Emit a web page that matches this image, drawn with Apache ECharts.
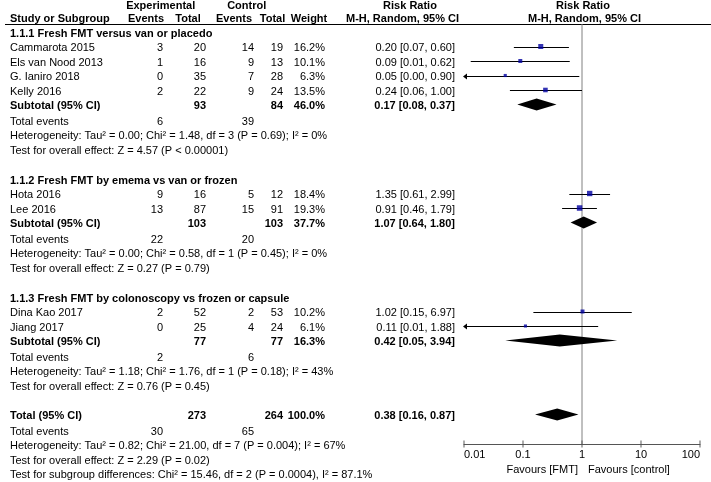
<!DOCTYPE html>
<html><head><meta charset="utf-8">
<script src="https://cdn.jsdelivr.net/npm/echarts@6/dist/echarts.min.js"></script>
<style>html,body{margin:0;padding:0;background:#fff}#c{width:711px;height:482px}</style>
</head><body><div id="c"></div>
<script>
// ---------- DATA ----------
const studies = ['Cammarota 2015','Els van Nood 2013','G. Ianiro 2018','Kelly 2016','Hota 2016','Lee 2016','Dina Kao 2017','Jiang 2017'];
const expEvents = [3,1,0,2,9,13,2,0];
const expTotal = [20,16,35,22,16,87,52,25];
const ctrlEvents = [14,9,7,9,5,15,2,4];
const ctrlTotal = [19,13,28,24,12,91,53,24];
const weights = [16.2,10.1,6.3,13.5,18.4,19.3,10.2,6.1];
const riskRatio = [0.20,0.09,0.05,0.24,1.35,0.91,1.02,0.11];
const ciLow = [0.07,0.013,0.003,0.06,0.61,0.46,0.15,0.007];
const ciHigh = [0.60,0.62,0.90,1.00,2.99,1.79,6.97,1.88];

const groupNames = ['1.1.1 Fresh FMT versus van or placedo','1.1.2 Fresh FMT by emema vs van or frozen','1.1.3 Fresh FMT by colonoscopy vs frozen or capsule'];
const groupSizes = [4,2,2];
const subExpTotal = [93,103,77];
const subCtrlTotal = [84,103,77];
const subWeight = [46.0,37.7,16.3];
const subRR = [0.17,1.07,0.42];
const subLow = [0.08,0.64,0.05];
const subHigh = [0.37,1.80,3.94];
const subExpEvents = [6,22,2];
const subCtrlEvents = [39,20,6];
const subHet = [
  'Heterogeneity: Tau² = 0.00; Chi² = 1.48, df = 3 (P = 0.69); I² = 0%',
  'Heterogeneity: Tau² = 0.00; Chi² = 0.58, df = 1 (P = 0.45); I² = 0%',
  'Heterogeneity: Tau² = 1.18; Chi² = 1.76, df = 1 (P = 0.18); I² = 43%'
];
const subTest = [
  'Test for overall effect: Z = 4.57 (P < 0.00001)',
  'Test for overall effect: Z = 0.27 (P = 0.79)',
  'Test for overall effect: Z = 0.76 (P = 0.45)'
];
const totalExpTotal = 273, totalCtrlTotal = 264, totalWeight = 100.0;
const totalRR = 0.38, totalLow = 0.16, totalHigh = 0.87;
const totalExpEvents = 30, totalCtrlEvents = 65;
const totalHet = 'Heterogeneity: Tau² = 0.82; Chi² = 21.00, df = 7 (P = 0.004); I² = 67%';
const totalTest = 'Test for overall effect: Z = 2.29 (P = 0.02)';
const subgroupDiff = 'Test for subgroup differences: Chi² = 15.46, df = 2 (P = 0.0004), I² = 87.1%';
const tickValues = [0.01,0.1,1,10,100];
const tickLabels = ['0.01','0.1','1','10','100'];

// ---------- LAYOUT ----------
const FONT = '"Liberation Sans", Arial, sans-serif';
const COL = {study:10, expEv:163, expTot:206, ctrlEv:254, ctrlTot:283, weight:325, rr:455};
const PITCH = 14.5, MARK_OFF = -1.5;
const els = [];
function txt(s, x, y, align, bold){
  els.push({type:'text', silent:true, x:x, y:y, style:{text:String(s), align:align||'left', verticalAlign:'middle',
    font:(bold?'bold ':'')+'11px '+FONT, fill:'#000'}});
}
const f2 = v => v.toFixed(2);
const rrText = (r,l,h) => f2(r)+' ['+f2(l)+', '+f2(h)+']';

// header
txt('Experimental',160.7,6,'center',true);
txt('Control',246.7,6,'center',true);
txt('Risk Ratio',410,6,'center',true);
txt('Risk Ratio',583,6,'center',true);
txt('Study or Subgroup',COL.study,18.5,'left',true);
txt('Events',146,18.5,'center',true);
txt('Total',188,18.5,'center',true);
txt('Events',234,18.5,'center',true);
txt('Total',272.5,18.5,'center',true);
txt('Weight',309,18.5,'center',true);
txt('M-H, Random, 95% CI',402.5,18.5,'center',true);
txt('M-H, Random, 95% CI',584.5,18.5,'center',true);
els.push({type:'line', silent:true, shape:{x1:5,y1:24.5,x2:711,y2:24.5}, style:{stroke:'#000', lineWidth:1}});

const studyPts = [], ciData = [], diamondData = [];
let y = 33.5, si = 0;
groupNames.forEach((g, gi) => {
  txt(g, COL.study, y, 'left', true); y += PITCH;
  for (let k = 0; k < groupSizes[gi]; k++, si++) {
    txt(studies[si], COL.study, y);
    txt(expEvents[si], COL.expEv, y, 'right');
    txt(expTotal[si], COL.expTot, y, 'right');
    txt(ctrlEvents[si], COL.ctrlEv, y, 'right');
    txt(ctrlTotal[si], COL.ctrlTot, y, 'right');
    txt(weights[si].toFixed(1)+'%', COL.weight, y, 'right');
    txt(rrText(riskRatio[si], ciLow[si], ciHigh[si]), COL.rr, y, 'right');
    studyPts.push([riskRatio[si], y+MARK_OFF, weights[si]]);
    ciData.push([ciLow[si], ciHigh[si], y+MARK_OFF]);
    y += PITCH;
  }
  txt('Subtotal (95% CI)', COL.study, y, 'left', true);
  txt(subExpTotal[gi], COL.expTot, y, 'right', true);
  txt(subCtrlTotal[gi], COL.ctrlTot, y, 'right', true);
  txt(subWeight[gi].toFixed(1)+'%', COL.weight, y, 'right', true);
  txt(rrText(subRR[gi], subLow[gi], subHigh[gi]), COL.rr, y, 'right', true);
  diamondData.push([subLow[gi], subRR[gi], subHigh[gi], y+MARK_OFF]);
  y += 15.5;
  txt('Total events', COL.study, y);
  txt(subExpEvents[gi], COL.expEv, y, 'right');
  txt(subCtrlEvents[gi], COL.ctrlEv, y, 'right');
  y += PITCH;
  txt(subHet[gi], COL.study, y); y += PITCH;
  txt(subTest[gi], COL.study, y); y += 30;
});
y -= 0.5;
txt('Total (95% CI)', COL.study, y, 'left', true);
txt(totalExpTotal, COL.expTot, y, 'right', true);
txt(totalCtrlTotal, COL.ctrlTot, y, 'right', true);
txt(totalWeight.toFixed(1)+'%', COL.weight, y, 'right', true);
txt(rrText(totalRR, totalLow, totalHigh), COL.rr, y, 'right', true);
diamondData.push([totalLow, totalRR, totalHigh, y+MARK_OFF]);
y += 15.5;
txt('Total events', COL.study, y);
txt(totalExpEvents, COL.expEv, y, 'right');
txt(totalCtrlEvents, COL.ctrlEv, y, 'right');
y += PITCH; txt(totalHet, COL.study, y);
y += PITCH; txt(totalTest, COL.study, y);
y += PITCH; txt(subgroupDiff, COL.study, y);

txt('Favours [FMT]', 578, 470, 'right');
txt('Favours [control]', 588, 470, 'left');

// ---------- CHART ----------
const AXIS_TOP = 24, AXIS_BOTTOM = 444;
const chart = echarts.init(document.getElementById('c'), null, {renderer:'canvas'});
chart.setOption({
  animation:false,
  backgroundColor:'#fff',
  grid:{left:464, right:11, top:AXIS_TOP, bottom:482-AXIS_BOTTOM, containLabel:false},
  xAxis:{type:'log', logBase:10, min:0.01, max:100,
    axisLine:{show:true, lineStyle:{color:'#555', width:1}},
    axisTick:{show:false}, splitLine:{show:false}, minorTick:{show:false},
    axisLabel:{margin:5, color:'#000', fontSize:11, fontFamily:FONT,
      alignMinLabel:'left', alignMaxLabel:'right',
      formatter: v => tickLabels[Math.round(Math.log10(v))+2]}},
  yAxis:{type:'value', min:AXIS_TOP, max:AXIS_BOTTOM, inverse:true, show:false, splitLine:{show:false}},
  graphic: els,
  series:[
    {type:'line', data:[[1,AXIS_TOP],[1,AXIS_BOTTOM]], symbol:'none', silent:true,
     lineStyle:{color:'#808080', width:1}, z:1},
    {type:'scatter', data:tickValues.map(v=>[v,AXIS_BOTTOM]), symbol:'rect', symbolSize:[1.2,7],
     itemStyle:{color:'#555'}, clip:false, silent:true},
    {type:'custom', data:ciData, encode:{x:[0,1], y:2}, silent:true, clip:false, z:2,
     renderItem:(params, api)=>{
       const lo = Math.max(api.value(0), 0.01), hi = Math.min(api.value(1), 100), yy = api.value(2);
       const p1 = api.coord([lo, yy]), p2 = api.coord([hi, yy]);
       const py = Math.round(p1[1]) + 0.5;
       const ch = [{type:'line', shape:{x1:p1[0], y1:py, x2:p2[0], y2:py}, style:{stroke:'#000', lineWidth:1}}];
       if (api.value(0) < 0.01) ch.push({type:'polygon', shape:{points:[[p1[0]-1,py],[p1[0]+3,py-3],[p1[0]+3,py+3]]}, style:{fill:'#000'}});
       return {type:'group', children:ch};
     }},
    {type:'scatter', data:studyPts, symbol:'rect', symbolSize:v=>Math.sqrt(v[2])*1.25,
     itemStyle:{color:'#0000a0'}, silent:true, z:3},
    {type:'custom', data:diamondData, encode:{x:[0,1,2], y:3}, silent:true, clip:false, z:3,
     renderItem:(params, api)=>{
       const yy = api.value(3);
       const a = api.coord([api.value(0), yy]), m = api.coord([api.value(1), yy]), b = api.coord([api.value(2), yy]);
       return {type:'polygon', shape:{points:[[a[0],a[1]],[m[0],m[1]-6],[b[0],b[1]],[m[0],m[1]+6]]}, style:{fill:'#000'}};
     }}
  ]
});
</script></body></html>
